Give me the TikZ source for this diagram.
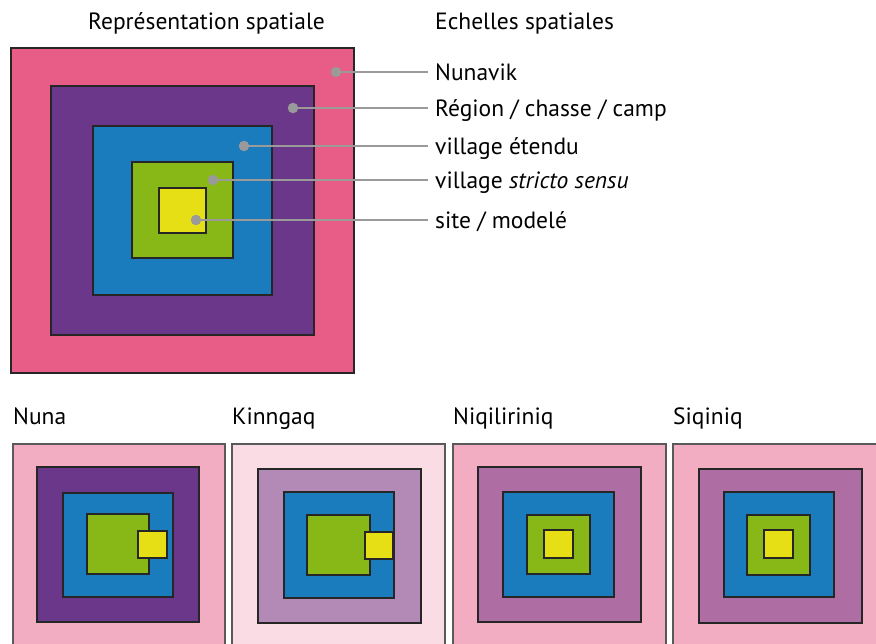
\documentclass[tikz,border=0pt]{standalone}
\usepackage{fontspec}
\setmainfont{PT Sans}
\definecolor{pinkA}{HTML}{E85D87}
\definecolor{purpleA}{HTML}{6B378A}
\definecolor{blueA}{HTML}{1A7BBD}
\definecolor{greenA}{HTML}{88B817}
\definecolor{yellowA}{HTML}{E6DF16}
\definecolor{pinkB}{HTML}{F2ADC2}
\definecolor{pinkC}{HTML}{FADCE5}
\definecolor{mauveC}{HTML}{B389B6}
\definecolor{mauveD}{HTML}{AF6EA3}
\definecolor{leader}{HTML}{9A9A9A}
\begin{document}
\begin{tikzpicture}[x=1pt,y=-1pt,
  sq/.style={draw=black!85,line width=1.5pt},
  outersq/.style={draw=black!65,line width=1.3pt},
  dotmark/.style={circle,fill=leader,inner sep=0pt,minimum size=10.5pt},
  lab/.style={anchor=west,inner xsep=7pt,inner ysep=0pt,font=\fontsize{23.5}{27}\selectfont,text height=21pt,text depth=4.6pt},
  title/.style={font=\fontsize{23.5}{27}\selectfont,inner sep=0pt,anchor=base west},
  leaderline/.style={draw=leader,line width=1.4pt}]
\useasboundingbox (0,0) rectangle (876,643);
\clip (0,0) rectangle (876,643);
% titles
\node[title] (t1) at (88,29) {Représentation spatiale};
\node[title] (t2) at (435,29) {Echelles spatiales};
% top nested squares
\filldraw[sq,fill=pinkA,line width=2pt] (11,48) rectangle (354,373);
\filldraw[sq,fill=purpleA] (51,86) rectangle (314,335);
\filldraw[sq,fill=blueA] (93,126) rectangle (272,295);
\filldraw[sq,fill=greenA] (132,162) rectangle (233,258);
\filldraw[sq,fill=yellowA] (159,188) rectangle (206,233);
% dots
\node[dotmark] (d1) at (336,72) {};
\node[dotmark] (d2) at (293,108) {};
\node[dotmark] (d3) at (244,146) {};
\node[dotmark] (d4) at (213,180) {};
\node[dotmark] (d5) at (196,220) {};
% labels
\node[lab] (l1) at (428,72) {Nunavik};
\node[lab] (l2) at (428,108) {Région / chasse / camp};
\node[lab] (l3) at (428,146) {village étendu};
\node[lab] (l4) at (428,180) {village \textit{stricto sensu}};
\node[lab] (l5) at (428,220) {site / modelé};
\foreach \i in {1,...,5}{\draw[leaderline] (d\i.center) -- (l\i.west);}
% bottom titles
\node[title] (b1) at (13,424) {Nuna};
\node[title] (b2) at (232,424) {Kinngaq};
\node[title] (b3) at (453,424) {Niqiliriniq};
\node[title] (b4) at (673,424) {Siqiniq};
% Nuna
\filldraw[outersq,fill=pinkB] (13,444) rectangle (225,660);
\filldraw[sq,fill=purpleA] (37,467) rectangle (199,622);
\filldraw[sq,fill=blueA] (63,493) rectangle (173,597);
\filldraw[sq,fill=greenA] (87,514) rectangle (149,574);
\filldraw[sq,fill=yellowA] (138,531) rectangle (167,558);
% Kinngaq
\filldraw[outersq,fill=pinkC] (232,444) rectangle (445,660);
\filldraw[sq,fill=mauveC] (258,469) rectangle (421,623);
\filldraw[sq,fill=blueA] (284,492) rectangle (394,598);
\filldraw[sq,fill=greenA] (307,515) rectangle (370,575);
\filldraw[sq,fill=yellowA] (365,532) rectangle (393,559);
% Niqiliriniq
\filldraw[outersq,fill=pinkB] (453,444) rectangle (666,660);
\filldraw[sq,fill=mauveD] (478,467) rectangle (641,622);
\filldraw[sq,fill=blueA] (503,492) rectangle (614,597);
\filldraw[sq,fill=greenA] (527,515) rectangle (590,574);
\filldraw[sq,fill=yellowA] (544,530) rectangle (573,558);
% Siqiniq
\filldraw[outersq,fill=pinkB] (673,444) rectangle (890,660);
\filldraw[sq,fill=mauveD] (699,469) rectangle (862,623);
\filldraw[sq,fill=blueA] (724,492) rectangle (834,597);
\filldraw[sq,fill=greenA] (747,515) rectangle (810,575);
\filldraw[sq,fill=yellowA] (764,530) rectangle (793,558);
\end{tikzpicture}
\end{document}
